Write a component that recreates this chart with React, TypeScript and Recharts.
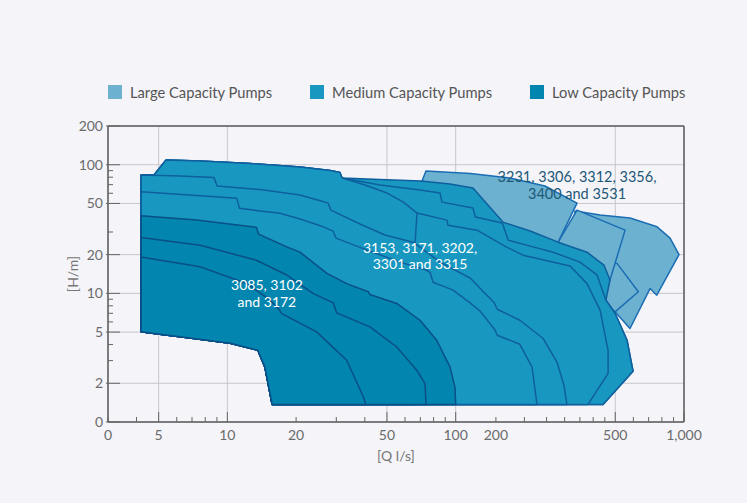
import { ScatterChart, Scatter, XAxis, YAxis, CartesianGrid, ReferenceLine } from 'recharts'

type Pt = [number, number] // [Q l/s, H m]

// axes (both logarithmic; the "0" labels sit at Q=3 and H=1)
const Q_TICKS = [3, 4, 5, 6, 7, 8, 9, 10, 20, 30, 40, 50, 60, 70, 80, 90, 100, 150, 200, 250, 300, 350, 400, 450, 500, 600, 700, 800, 900, 1000]
const Q_LABEL_AT = [3, 5, 10, 20, 50, 100, 150, 500, 1000]
const Q_LABELS = ['0', '5', '10', '20', '50', '100', '200', '500', '1,000']
const Q_LONG = [5, 10, 50, 100, 500, 1000]
const Q_GRID = [5, 10, 50, 100, 500]

const H_TICKS = [1, 2, 3, 4, 5, 6, 7, 8, 9, 10, 20, 30, 50, 60, 70, 80, 90, 100, 200]
const H_LABEL_AT = [1, 2, 5, 10, 20, 50, 100, 200]
const H_LABELS = ['0', '2', '5', '10', '20', '50', '100', '200']
const H_GRID = [2, 5, 10, 20, 50, 100]

const LEGEND_NAMES = ['Large Capacity Pumps', 'Medium Capacity Pumps', 'Low Capacity Pumps']
const LEGEND_GROUPS = ['large', 'medium', 'low']

// shared lower-left boundary of the small/medium envelopes
const BASE: Pt[] = [[15.7, 1.37], [14.6, 2.67], [13.6, 3.61], [10.3, 4.1], [6.86, 4.5], [5.07, 4.81], [4.19, 5.02]]
const TOP_LEFT: Pt[] = [[4.19, 83.2], [4.77, 83.2], [5.39, 108.8], [7.59, 106.9], [12.6, 102.2], [20.8, 96.0], [28.2, 90.1], [31.1, 87.0], [31.8, 78.8]]

// large capacity
const LARGE_C: Pt[] = [[333, 43.6], [429, 40.6], [580, 38.5], [762, 32.9], [869, 26.9], [951, 20.0], [760, 9.68], [710, 10.9], [580, 5.33], [499, 7.18], [429, 10.6], [333, 25]]
const LARGE_D: Pt[] = [[429, 17.2], [509, 17.1], [631, 10.3], [499, 7.18], [429, 8.85]]
const LARGE_B: Pt[] = [[281, 25.0], [340, 44.4], [552, 31.0], [474, 12.7], [408, 11.6], [317, 18.1]]
const LARGE_A: Pt[] = [[71.2, 74.7], [74.1, 89.3], [116, 85.4], [173, 78.8], [246, 68.3], [340, 50.3], [281, 25.0], [161, 31.0], [119, 44.4]]

// medium capacity
const MED_1: Pt[] = [...TOP_LEFT, [46.6, 76.7], [70.5, 74.7], [94.4, 70.8], [119, 65.9], [161, 35.8], [212, 30.5], [281, 25.0], [376, 20.9], [446, 16.6], [474, 12.7], [455, 8.85], [499, 7.01], [563, 4.32], [598, 2.48], [442, 1.37]]
const MED_2: Pt[] = [...TOP_LEFT, [46.6, 69.5], [69.8, 63.6], [85.4, 60.2], [87.1, 51.2], [119, 46.0], [122, 39.2], [160, 35.2], [170, 25.9], [212, 23.3], [267, 20.9], [350, 17.5], [416, 13.9], [455, 8.85], [499, 7.01], [563, 4.32], [598, 2.48], [442, 1.37]]
const MED_3: Pt[] = [[4.19, 81.7], [31.8, 68.3], [67.7, 42.1], [91.6, 37.1], [92.5, 33.9], [124, 31.0], [164, 23.3], [197, 19.8], [246, 18.1], [317, 16.3], [376, 11.9], [429, 7.4], [465, 3.61], [465, 2.39], [380, 1.37]]
const MED_4: Pt[] = [...TOP_LEFT, [40.1, 69.5], [50.0, 60.2], [58.8, 51.5], [67.7, 42.1], [66.4, 24.6], [66.4, 1.37]]
const MED_5: Pt[] = [[4.19, 83.2], [6.2, 81.7], [8.74, 79.5], [9.01, 68.3], [13.9, 64.1], [20.8, 58.1], [26.2, 51.7], [27.6, 50.3], [28.4, 44.4], [38.1, 34.6], [49.0, 28.4], [65.0, 25.0], [75.6, 20.6], [85.4, 17.5], [116, 13.1], [130, 10.6], [147, 8.54], [152, 7.53], [191, 6.18], [241, 4.48], [278, 2.91], [298, 1.93], [307, 1.37]]
const MED_6: Pt[] = [[4.19, 61.7], [11.0, 54.8], [11.3, 45.8], [17.0, 41.9], [20.8, 37.8], [26.3, 32.9], [29.0, 30.5], [29.9, 26.9], [40.9, 21.7], [57.0, 17.5], [74.1, 15.2], [77.2, 14.6], [79.6, 12.2], [97.4, 10.6], [116, 8.39], [128, 7.27], [149, 5.17], [152, 4.73], [191, 4.02], [216, 2.67], [227, 1.37]]

// low capacity
const LOW_1: Pt[] = [[4.19, 40.1], [7.34, 37.1], [13.4, 32.6], [13.7, 28.9], [18.2, 23.0], [20.8, 20.9], [27.3, 14.3], [33.3, 11.9], [41.4, 10.3], [42.1, 9.8], [55.2, 8.35], [69.8, 6.18], [82.6, 4.32], [94.4, 2.68], [99.3, 1.86], [100, 1.37]]
const LOW_2: Pt[] = [[4.19, 27.2], [7.59, 23.7], [13.4, 18.1], [18.2, 13.9], [23.7, 10.0], [29.1, 8.44], [30.1, 7.05], [42.1, 5.49], [55.2, 3.83], [67.5, 2.53], [73.4, 1.99], [74.1, 1.37]]
const LOW_3: Pt[] = [[4.19, 19.2], [7.59, 16.1], [12.2, 11.9], [15.4, 8.85], [16.8, 7.53], [17.3, 6.95], [24.6, 5.02], [33.3, 3.02], [39.4, 1.57], [40.4, 1.37]]

const SHAPES: { id: string; group: string; pts: Pt[]; base: boolean }[] = [
  { id: 'l-c', group: 'large', pts: LARGE_C, base: false },
  { id: 'l-d', group: 'large', pts: LARGE_D, base: false },
  { id: 'l-b', group: 'large', pts: LARGE_B, base: false },
  { id: 'l-a', group: 'large', pts: LARGE_A, base: false },
  { id: 'm-1', group: 'medium', pts: MED_1, base: true },
  { id: 'm-2', group: 'medium', pts: MED_2, base: true },
  { id: 'm-3', group: 'medium', pts: MED_3, base: true },
  { id: 'm-4', group: 'medium', pts: MED_4, base: true },
  { id: 'm-5', group: 'medium', pts: MED_5, base: true },
  { id: 'm-6', group: 'medium', pts: MED_6, base: true },
  { id: 's-1', group: 'low', pts: LOW_1, base: true },
  { id: 's-2', group: 'low', pts: LOW_2, base: true },
  { id: 's-3', group: 'low', pts: LOW_3, base: true },
]

const LABELS = [
  { q: 14.9, h: 10.0, lines: ['3085, 3102', 'and 3172'], dark: false },
  { q: 69.8, h: 19.5, lines: ['3153, 3171, 3202,', '3301 and 3315'], dark: false },
  { q: 340, h: 69.1, lines: ['3231, 3306, 3312, 3356,', '3400 and 3531'], dark: true },
]

const FILL: Record<string, string> = { large: '#6cb1d0', medium: '#1898c0', low: '#0285ae' }
const STROKE: Record<string, string> = { large: '#1a6db3', medium: '#0f5f9e', low: '#0a4f86' }

const noDot = () => <g />

function XTick({ x, y, payload }: any) {
  const v = payload.value
  const i = Q_LABEL_AT.indexOf(v)
  const len = Q_LONG.includes(v) ? 10 : 5
  return (
    <g>
      <line x1={x} x2={x} y1={y} y2={y - len} stroke="#666" strokeWidth={1} />
      {i >= 0 && (
        <text x={x} y={y + 18} textAnchor="middle" fill="#6b6b6b" fontSize={14}>{Q_LABELS[i]}</text>
      )}
    </g>
  )
}

function YTick({ x, y, payload }: any) {
  const v = payload.value
  const i = H_LABEL_AT.indexOf(v)
  const major = i >= 0
  return (
    <g>
      <line x1={major ? x - 2 : x} x2={x + (major ? 12 : 5)} y1={y} y2={y} stroke="#666" strokeWidth={1} />
      {major && (
        <text x={x - 5} y={y + 5} textAnchor="end" fill="#6b6b6b" fontSize={14}>{H_LABELS[i]}</text>
      )}
    </g>
  )
}

function LabelShape(props: any) {
  const { cx, cy, payload } = props
  const dark = payload.dark
  const gap = dark ? 17 : 16.5
  return (
    <text
      x={cx}
      y={cy}
      textAnchor="middle"
      fill={dark ? '#1d5877' : '#ffffff'}
      fontSize={dark ? 14.5 : 14}
    >
      {payload.lines.map((t: string, k: number) => (
        <tspan key={k} x={cx} y={cy + (k === 0 ? -gap / 2 : gap / 2)} dy={5}>{t}</tspan>
      ))}
    </text>
  )
}

export default function App() {
  return (
    <div
      style={{
        position: 'absolute', left: 0, top: 0, width: 747, height: 503,
        background: '#f4f4f9', fontFamily: 'Lato, sans-serif',
      }}
    >
      <div
        style={{
          position: 'absolute', top: 83, left: 108, display: 'flex', gap: 38,
          fontSize: 14.7, lineHeight: '18px', color: '#555',
        }}
      >
        {LEGEND_NAMES.map((name, i) => (
          <div key={name} style={{ display: 'flex', alignItems: 'center' }}>
            <span style={{ width: 14, height: 14, background: FILL[LEGEND_GROUPS[i]], marginRight: 8, display: 'inline-block' }} />
            {name}
          </div>
        ))}
      </div>
      <ScatterChart width={747} height={503} margin={{ top: 126, right: 63, bottom: 51, left: 48 }}>
        <CartesianGrid horizontalValues={H_GRID} verticalValues={Q_GRID} stroke="#c6c6cb" />
        <XAxis
          type="number" dataKey="q" scale="log" domain={[3, 1000]} allowDataOverflow
          ticks={Q_TICKS} interval={0} tickSize={0} tickMargin={0} tickLine={false}
          tick={(p: any) => <XTick {...p} />} height={30}
          axisLine={{ stroke: '#555', strokeWidth: 1.5 }}
          label={({ viewBox }: any) => (
            <text x={viewBox.x + viewBox.width / 2} y={viewBox.y + 39} textAnchor="middle" fill="#777" fontSize={14}>[Q l/s]</text>
          )}
        />
        <YAxis
          type="number" dataKey="h" scale="log" domain={[1, 200]} allowDataOverflow
          ticks={H_TICKS} interval={0} tickSize={0} tickMargin={0} tickLine={false}
          tick={(p: any) => <YTick {...p} />} width={60}
          axisLine={{ stroke: '#555', strokeWidth: 1.5 }}
          label={({ viewBox }: any) => {
            const cx = viewBox.x + 24
            const cy = viewBox.y + viewBox.height / 2
            return (
              <text x={cx} y={cy} transform={`rotate(-90 ${cx} ${cy})`} textAnchor="middle" dominantBaseline="central" fill="#777" fontSize={14}>[H/m]</text>
            )
          }}
        />
        <ReferenceLine y={200} stroke="#555" strokeWidth={1.5} />
        <ReferenceLine x={1000} stroke="#555" strokeWidth={1.5} />
        {SHAPES.map(s => (
          <Scatter
            key={s.id}
            name={s.id}
            data={(s.base ? [...s.pts, ...BASE] : s.pts).map(([q, h]) => ({ q, h }))}
            line={{ fill: FILL[s.group], stroke: STROKE[s.group], strokeWidth: 1.5, strokeLinejoin: 'round' }}
            lineType="joint"
            lineJointType="linearClosed"
            shape={noDot}
            legendType="none"
            isAnimationActive={false}
          />
        ))}
        <Scatter
          name="labels"
          data={LABELS}
          shape={(p: any) => <LabelShape {...p} />}
          legendType="none"
          isAnimationActive={false}
        />
      </ScatterChart>
    </div>
  )
}
